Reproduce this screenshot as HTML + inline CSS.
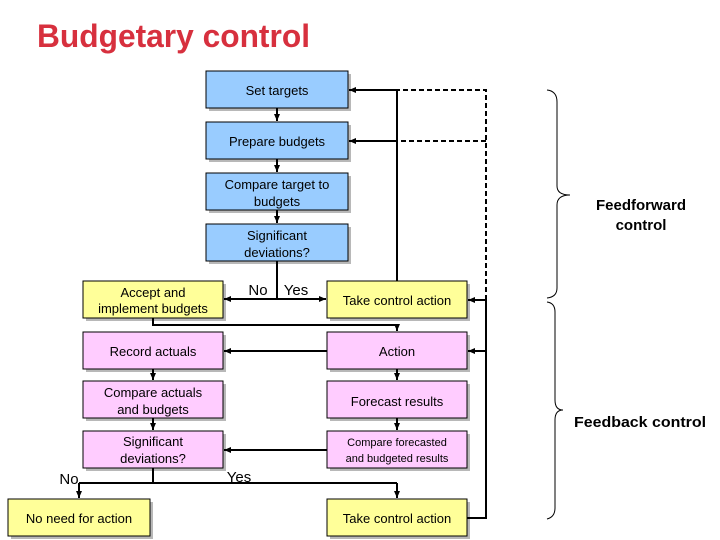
<!DOCTYPE html>
<html><head><meta charset="utf-8"><style>
html,body{margin:0;padding:0;background:#fff;}
svg{display:block;font-family:"Liberation Sans",Arial,sans-serif;}
</style></head><body>
<svg width="720" height="540" viewBox="0 0 720 540" xmlns="http://www.w3.org/2000/svg">
<defs>
<marker id="a" markerWidth="8" markerHeight="8" refX="7" refY="4" orient="auto" markerUnits="userSpaceOnUse">
<path d="M0,1 L7,4 L0,7 z" fill="#000"/></marker>
</defs>
<text x="37" y="47" font-size="32" font-weight="bold" fill="#d7303e" textLength="273" lengthAdjust="spacingAndGlyphs">Budgetary control</text>

<g stroke="#000" stroke-width="1">
<g fill="#b8b8b8" stroke="none">
<rect x="209" y="74" width="142" height="37"/><rect x="209" y="125" width="142" height="37"/>
<rect x="209" y="176" width="142" height="37"/><rect x="209" y="227" width="142" height="37"/>
<rect x="86" y="284" width="140" height="37"/><rect x="330" y="284" width="140" height="37"/>
<rect x="86" y="335" width="140" height="37"/><rect x="330" y="335" width="140" height="37"/>
<rect x="86" y="384" width="140" height="37"/><rect x="330" y="384" width="140" height="37"/>
<rect x="86" y="434" width="140" height="37"/><rect x="330" y="434" width="140" height="37"/>
<rect x="11" y="502" width="142" height="37"/><rect x="330" y="502" width="140" height="37"/>
</g>
<g fill="#99ccff">
<rect x="206" y="71" width="142" height="37"/><rect x="206" y="122" width="142" height="37"/>
<rect x="206" y="173" width="142" height="37"/><rect x="206" y="224" width="142" height="37"/>
</g>
<g fill="#ffff99">
<rect x="83" y="281" width="140" height="37"/><rect x="327" y="281" width="140" height="37"/>
<rect x="8" y="499" width="142" height="37"/><rect x="327" y="499" width="140" height="37"/>
</g>
<g fill="#ffccff">
<rect x="83" y="332" width="140" height="37"/><rect x="327" y="332" width="140" height="37"/>
<rect x="83" y="381" width="140" height="37"/><rect x="327" y="381" width="140" height="37"/>
<rect x="83" y="431" width="140" height="37"/><rect x="327" y="431" width="140" height="37"/>
</g>
</g>

<g stroke="#000" stroke-width="2" fill="none">
<line x1="277" y1="108" x2="277" y2="121" marker-end="url(#a)"/>
<line x1="277" y1="159" x2="277" y2="172" marker-end="url(#a)"/>
<line x1="277" y1="210" x2="277" y2="223" marker-end="url(#a)"/>
<line x1="277" y1="261" x2="277" y2="299"/>
<line x1="277" y1="299" x2="224" y2="299" marker-end="url(#a)"/>
<line x1="277" y1="299" x2="326" y2="299" marker-end="url(#a)"/>
<line x1="397" y1="281" x2="397" y2="90"/>
<line x1="397" y1="90" x2="349" y2="90" marker-end="url(#a)"/>
<line x1="397" y1="141" x2="349" y2="141" marker-end="url(#a)"/>
<polyline points="153,318 153,325 397,325 397,331" marker-end="url(#a)"/>
<line x1="327" y1="351" x2="224" y2="351" marker-end="url(#a)"/>
<line x1="153" y1="369" x2="153" y2="380" marker-end="url(#a)"/>
<line x1="153" y1="418" x2="153" y2="430" marker-end="url(#a)"/>
<line x1="397" y1="369" x2="397" y2="380" marker-end="url(#a)"/>
<line x1="397" y1="418" x2="397" y2="430" marker-end="url(#a)"/>
<line x1="327" y1="450" x2="224" y2="450" marker-end="url(#a)"/>
<line x1="153" y1="468" x2="153" y2="483"/>
<line x1="79" y1="483" x2="397" y2="483"/>
<line x1="79" y1="483" x2="79" y2="498" marker-end="url(#a)"/>
<line x1="397" y1="483" x2="397" y2="498" marker-end="url(#a)"/>
<polyline points="467,518 486,518 486,300"/>
<line x1="486" y1="300" x2="468" y2="300" marker-end="url(#a)"/>
<line x1="486" y1="351" x2="468" y2="351" marker-end="url(#a)"/>
<polyline points="486,300 486,90 397,90" stroke-dasharray="5,3"/>
<line x1="486" y1="141" x2="397" y2="141" stroke-dasharray="5,3"/>
</g>

<g stroke="#000" stroke-width="1" fill="none">
<path d="M547,90 Q557,91 557,102 L557,186 Q557,195 570,195 Q557,195 557,205 L557,288 Q557,297 547,298"/>
<path d="M547,302 Q555,303 555,312 L555,400 Q555,410 563,410 Q555,410 555,420 L555,508 Q555,517 547,519"/>
</g>

<g font-size="13" fill="#000" text-anchor="middle">
<text x="277" y="95">Set targets</text>
<text x="277" y="146">Prepare budgets</text>
<text x="277" y="189">Compare target to</text>
<text x="277" y="206">budgets</text>
<text x="277" y="240">Significant</text>
<text x="277" y="257">deviations?</text>
<text x="153" y="297">Accept and</text>
<text x="153" y="313">implement budgets</text>
<text x="397" y="305">Take control action</text>
<text x="153" y="356">Record actuals</text>
<text x="397" y="356">Action</text>
<text x="153" y="397">Compare actuals</text>
<text x="153" y="414">and budgets</text>
<text x="397" y="406">Forecast results</text>
<text x="153" y="446">Significant</text>
<text x="153" y="463">deviations?</text>
<text x="397" y="446" font-size="11">Compare forecasted</text>
<text x="397" y="462" font-size="11">and budgeted results</text>
<text x="79" y="523">No need for action</text>
<text x="397" y="523">Take control action</text>
<text x="258" y="295" font-size="15">No</text>
<text x="296" y="295" font-size="15">Yes</text>
<text x="69" y="484" font-size="15">No</text>
<text x="239" y="482" font-size="15">Yes</text>
<text x="641" y="210" font-weight="bold" font-size="15">Feedforward</text>
<text x="641" y="230" font-weight="bold" font-size="15">control</text>
<text x="640" y="427" font-weight="bold" font-size="15" textLength="132" lengthAdjust="spacingAndGlyphs">Feedback control</text>
</g>
</svg>
</body></html>
